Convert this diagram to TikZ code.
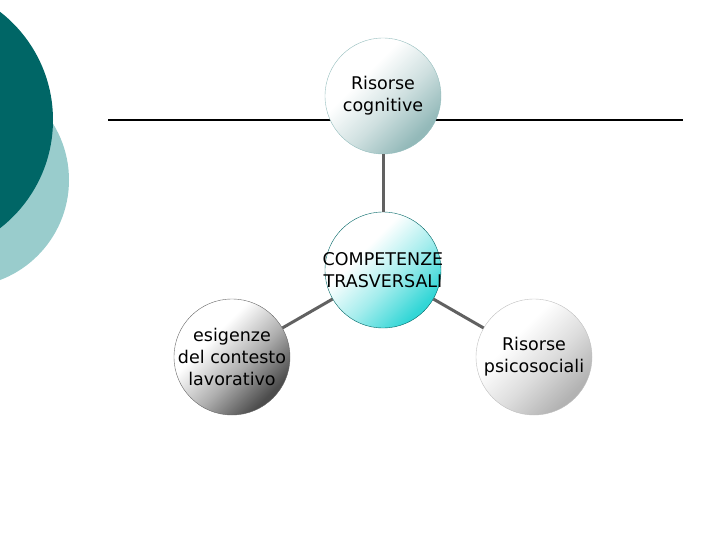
\documentclass[tikz,border=0pt]{standalone}
\usepackage{xcolor}
\usepackage{fontspec}
\setmainfont{DejaVu Sans}
\usepackage{tikz}
\usetikzlibrary{positioning}

\definecolor{tealdark}{RGB}{0,102,102}
\definecolor{teallight}{RGB}{153,204,204}
\colorlet{bubcol}{gray}
\pgfdeclareverticalshading[bubcol]{bubshade}{100bp}{color(0bp)=(bubcol); color(27bp)=(bubcol); color(44bp)=(bubcol!45!white); color(62bp)=(white); color(100bp)=(white)}

\begin{document}
\begin{tikzpicture}[x=1pt, y=-1pt,
  font=\fontsize{17.5}{22}\selectfont,
  bubble/.style={circle, minimum size=116pt, inner sep=-40pt, align=center,
    shading=bubshade, shading angle=45},
  bubble col/.code={\colorlet{bubcol}{#1}},
  link/.style={draw=black!62, line width=3pt}]
\useasboundingbox (0,0) rectangle (720,540);
% background decoration
\fill[teallight] (-38,180) circle (107);
\fill[tealdark] (-84,120) circle (137);
\coordinate (la) at (108,120);
\coordinate (lb) at (683,120);
\draw[line width=1.5pt] (la) -- (lb);
% nodes
\node[bubble, bubble col=teallight!75!gray, draw=teallight!80!gray] (cog) at (383,96) {Risorse\\cognitive};
\node[bubble, bubble col=cyan!60!teal!80, draw=tealdark] (comp) at (383,270) {COMPETENZE\\TRASVERSALI};
\node[bubble, bubble col=black!70, draw=black!60] (esig) at (232,357) {esigenze\\del contesto\\lavorativo};
\node[bubble, bubble col=black!30, draw=black!25] (psi) at (534,357) {Risorse\\psicosociali};
\draw[link] (cog) -- (comp);
\draw[link] (comp) -- (esig);
\draw[link] (comp) -- (psi);
\end{tikzpicture}
\end{document}
